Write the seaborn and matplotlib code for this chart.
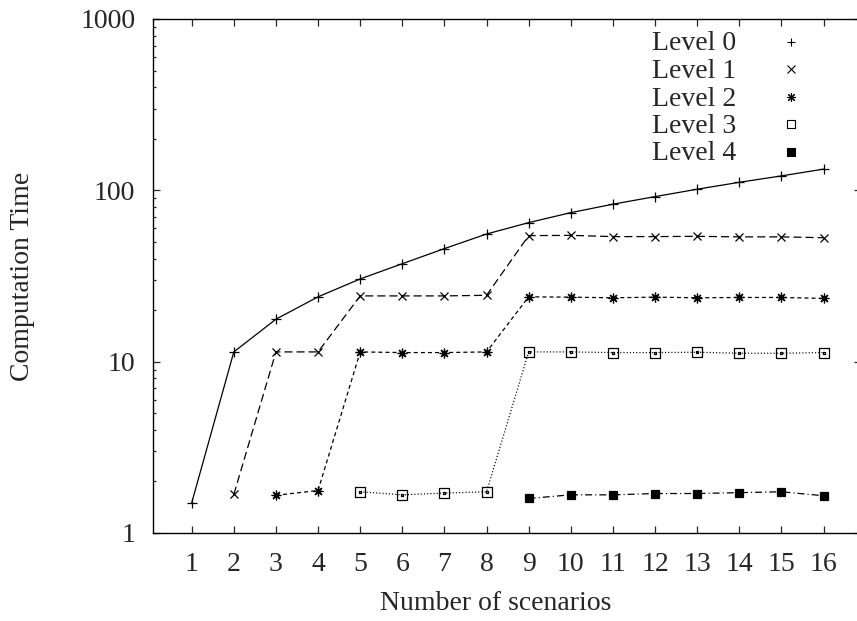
import numpy as np
import pandas as pd
import matplotlib
matplotlib.use("Agg")
import matplotlib.pyplot as plt
from matplotlib.path import Path
from matplotlib.lines import Line2D
import seaborn as sns

# ---------------- data ----------------
scenarios = list(range(1, 17))
level0_x = list(range(1, 17))
level0 = [1.50, 11.4, 17.7, 23.9, 30.4, 37.3, 45.7, 55.6, 64.8, 74.1, 83.0, 91.9, 101.5, 111.4, 121.4, 133.0]
level1_x = list(range(2, 17))
level1 = [1.68, 11.4, 11.4, 24.2, 24.2, 24.2, 24.4, 54.4, 54.6, 53.7, 53.7, 53.9, 53.5, 53.5, 52.9]
level2_x = list(range(3, 17))
level2 = [1.66, 1.77, 11.4, 11.3, 11.3, 11.4, 23.9, 23.8, 23.6, 23.8, 23.6, 23.7, 23.7, 23.4]
level3_x = list(range(5, 17))
level3 = [1.74, 1.67, 1.71, 1.74, 11.4, 11.4, 11.3, 11.3, 11.35, 11.2, 11.2, 11.3]
level4_x = list(range(9, 17))
level4 = [1.59, 1.67, 1.67, 1.70, 1.70, 1.72, 1.74, 1.65]
labels = ["Level 0", "Level 1", "Level 2", "Level 3", "Level 4"]
y_ticks = [1, 10, 100, 1000]
x_label = "Number of scenarios"
y_label = "Computation Time"

series = [(level0_x, level0), (level1_x, level1), (level2_x, level2),
          (level3_x, level3), (level4_x, level4)]
frames = []
for lab, (xs, ys) in zip(labels, series):
    frames.append(pd.DataFrame({"scenarios": xs, "time": ys, "level": lab}))
df = pd.concat(frames, ignore_index=True)

# ---------------- style ----------------
sns.set_style("ticks")
plt.rcParams["font.family"] = ["Liberation Serif", "DejaVu Serif"]
plt.rcParams["lines.scale_dashes"] = False
FS = 20

# square with a dot in the centre (gnuplot point type 4)
sq_dot = Path(
    [(-1, -1), (1, -1), (1, 1), (-1, 1), (-1, -1),
     (-0.12, -0.12), (0.12, -0.12), (0.12, 0.12), (-0.12, 0.12), (-0.12, -0.12)],
    [Path.MOVETO, Path.LINETO, Path.LINETO, Path.LINETO, Path.CLOSEPOLY,
     Path.MOVETO, Path.LINETO, Path.LINETO, Path.LINETO, Path.CLOSEPOLY])

styles = {
    "Level 0": dict(marker="+", ms=7, linestyle="-", mfc="none"),
    "Level 1": dict(marker="x", ms=6, linestyle=(0, (5.8, 2.9)), mfc="none"),
    "Level 2": dict(marker=(8, 2, 0), ms=7, linestyle=(0, (2.9, 2.2)), mfc="none"),
    "Level 3": dict(marker=sq_dot, ms=6.5, linestyle=(0, (0.8, 1.5)), mfc="none"),
    "Level 4": dict(marker="s", ms=6, linestyle=(0, (5, 2.2, 0.8, 2.2)), mfc="black"),
}

W, H = 857, 621
fig = plt.figure(figsize=(W / 100, H / 100), dpi=100)
left_px, right_px, top_px, bottom_px = 153.3, 861.0, 19.0, 533.0
ax = fig.add_axes([left_px / W, 1 - bottom_px / H,
                   (right_px - left_px) / W, (bottom_px - top_px) / H])

for lab in labels:
    sub = df[df["level"] == lab]
    st = styles[lab]
    sns.lineplot(data=sub, x="scenarios", y="time", ax=ax, estimator=None, sort=False,
                 color="black", lw=0.9, linestyle=st["linestyle"],
                 marker=st["marker"], ms=st["ms"], mfc=st["mfc"],
                 mec="black", mew=0.9, legend=False)

ax.set_yscale("log")
ax.set_ylim(1, 1000)
ax.set_xlim(0.0883, 16.89)
ax.set_xticks(scenarios)
ax.set_xticklabels([str(s) for s in scenarios], fontsize=FS)
ax.set_yticks(y_ticks)
ax.set_yticklabels([str(t) for t in y_ticks], fontsize=FS)
ax.yaxis.set_minor_locator(matplotlib.ticker.LogLocator(base=10, subs=np.arange(2, 10)))
ax.yaxis.set_minor_formatter(matplotlib.ticker.NullFormatter())
ax.tick_params(axis="both", which="major", direction="in", length=5, width=0.9,
               top=True, right=True)
ax.tick_params(axis="x", which="major", pad=14)
ax.tick_params(axis="y", which="major", pad=13)
ax.tick_params(axis="y", which="minor", direction="in", length=2.5, width=0.9, right=True)
for sp in ax.spines.values():
    sp.set_linewidth(1.0)
    sp.set_color("black")

ax.set_xlabel(x_label, fontsize=FS)
ax.set_ylabel(y_label, fontsize=FS)
ax.xaxis.set_label_coords((496 - left_px) / (right_px - left_px),
                          (bottom_px - 604) / (bottom_px - top_px))
ax.xaxis.label.set_verticalalignment("center")
ax.yaxis.set_label_coords((23 - left_px) / (right_px - left_px), 0.5)
ax.yaxis.label.set_verticalalignment("center")

# key (gnuplot style: text then point sample)
row_y = [41.5, 69.0, 96.5, 124.0, 151.5]
for lab, py in zip(labels, row_y):
    fig.text(736 / W, 1 - (py + 9) / H, lab, ha="right", va="baseline", fontsize=FS)
    st = styles[lab]
    fig.add_artist(Line2D([790.7 / W], [1 - py / H], transform=fig.transFigure,
                          linestyle="none", marker=st["marker"], ms=st["ms"] * 0.9,
                          mfc=st["mfc"], mec="black", mew=0.8, color="black"))

fig.savefig("out.png", dpi=100)
